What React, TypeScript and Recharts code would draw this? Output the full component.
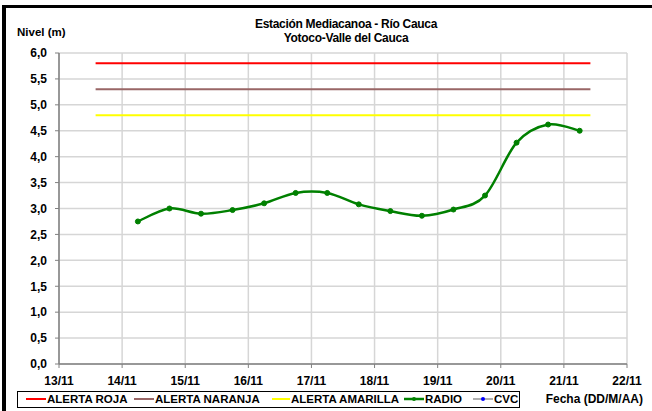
import { CartesianGrid, Line, LineChart, XAxis, YAxis } from "recharts";

const WIDTH = 652;
const HEIGHT = 411;
const FONT = '"Liberation Sans", Arial, sans-serif';

const dayTicks = [13, 14, 15, 16, 17, 18, 19, 20, 21, 22];
const levelTicks = [0, 0.5, 1, 1.5, 2, 2.5, 3, 3.5, 4, 4.5, 5, 5.5, 6];

const radioDays = [
  14.25, 14.75, 15.25, 15.75, 16.25, 16.75, 17.25, 17.75, 18.25, 18.75, 19.25,
  19.75, 20.25, 20.75, 21.25,
];
const radioLevels = [
  2.75, 3.0, 2.9, 2.97, 3.1, 3.3, 3.3, 3.08, 2.95, 2.86, 2.98, 3.25, 4.27, 4.62,
  4.5,
];

const alertDays = [13.58, 21.42];
const alertaRoja = 5.8;
const alertaNaranja = 5.3;
const alertaAmarilla = 4.8;

const radioData = radioDays.map((day, i) => ({ day, level: radioLevels[i] }));
const alertRow = (level: number) => alertDays.map((day) => ({ day, level }));

// excel-style smoothed line (cardinal spline through the points)
const excelSmooth = (context: any) => {
  let pts: number[][] = [];
  return {
    areaStart() {},
    areaEnd() {},
    lineStart() {
      pts = [];
    },
    point(x: number, y: number) {
      pts.push([+x, +y]);
    },
    lineEnd() {
      if (!pts.length) return;
      context.moveTo(pts[0][0], pts[0][1]);
      for (let i = 0; i < pts.length - 1; i++) {
        const p0 = pts[Math.max(i - 1, 0)];
        const p1 = pts[i];
        const p2 = pts[i + 1];
        const p3 = pts[Math.min(i + 2, pts.length - 1)];
        context.bezierCurveTo(
          p1[0] + (p2[0] - p0[0]) / 6,
          p1[1] + (p2[1] - p0[1]) / 6,
          p2[0] - (p3[0] - p1[0]) / 6,
          p2[1] - (p3[1] - p1[1]) / 6,
          p2[0],
          p2[1],
        );
      }
    },
  };
};

const legendItems = [
  { label: "ALERTA ROJA", color: "#ff0000", x: 26, w: 20 },
  { label: "ALERTA NARANJA", color: "#996666", x: 134, w: 20 },
  { label: "ALERTA AMARILLA", color: "#ffff00", x: 272, w: 18 },
  { label: "RADIO", color: "#008000", x: 404, w: 20, dot: "#008000", thick: true },
  { label: "CVC", color: "#b0b0b0", x: 473, w: 20, dot: "#0000ff" },
];

const bold = { fontFamily: FONT, fontWeight: 700, color: "#000" } as const;

export default function App() {
  return (
    <div
      style={{
        position: "absolute",
        left: 0,
        top: 0,
        width: WIDTH,
        height: HEIGHT,
        background: "#fff",
        overflow: "hidden",
      }}
    >
      <div
        style={{
          position: "absolute",
          left: 2,
          top: 5,
          right: 0,
          bottom: 0,
          borderLeft: "4px solid #000",
          borderTop: "3px solid #000",
        }}
      />
      <div
        style={{
          ...bold,
          position: "absolute",
          left: 0,
          width: 692,
          top: 17,
          textAlign: "center",
          fontSize: 12,
          lineHeight: "14px",
          letterSpacing: -0.3,
        }}
      >
        Estación Mediacanoa - Río Cauca
        <br />
        Yotoco-Valle del Cauca
      </div>
      <div style={{ ...bold, position: "absolute", left: 17, top: 26, fontSize: 11.5 }}>
        Nivel (m)
      </div>

      <div style={{ position: "absolute", left: 0, top: 0 }}>
        <LineChart
          width={WIDTH}
          height={HEIGHT}
          margin={{ top: 53, right: 25, bottom: 0, left: 0 }}
        >
          <CartesianGrid stroke="#d6d6d6" strokeWidth={1.5} />
          <XAxis
            type="number"
            dataKey="day"
            domain={[13, 22]}
            ticks={dayTicks}
            allowDataOverflow
            height={47}
            tickSize={4}
            tickMargin={8}
            tickFormatter={(d) => `${d}/11`}
            axisLine={{ stroke: "#808080", strokeWidth: 1.5 }}
            tickLine={{ stroke: "#808080" }}
            tick={{ fill: "#000", fontSize: 12, fontWeight: 700, fontFamily: FONT }}
          />
          <YAxis
            type="number"
            domain={[0, 6]}
            ticks={levelTicks}
            width={59}
            tickSize={4}
            tickMargin={8}
            tickFormatter={(v) => Number(v).toFixed(1).replace(".", ",")}
            axisLine={{ stroke: "#808080", strokeWidth: 1.5 }}
            tickLine={{ stroke: "#808080" }}
            tick={{ fill: "#000", fontSize: 12, fontWeight: 700, fontFamily: FONT }}
          />
          <Line
            data={alertRow(alertaRoja)}
            dataKey="level"
            stroke="#ff0000"
            strokeWidth={2}
            dot={false}
            isAnimationActive={false}
          />
          <Line
            data={alertRow(alertaNaranja)}
            dataKey="level"
            stroke="#996666"
            strokeWidth={2}
            dot={false}
            isAnimationActive={false}
          />
          <Line
            data={alertRow(alertaAmarilla)}
            dataKey="level"
            stroke="#ffff00"
            strokeWidth={2}
            dot={false}
            isAnimationActive={false}
          />
          <Line
            data={radioData}
            dataKey="level"
            type={excelSmooth as any}
            stroke="#008000"
            strokeWidth={2.5}
            dot={{ r: 2.5, fill: "#008000", stroke: "#008000", strokeWidth: 1 }}
            isAnimationActive={false}
          />
        </LineChart>
      </div>

      <div
        style={{
          position: "absolute",
          left: 17,
          top: 391,
          width: 501,
          height: 15,
          border: "1px solid #000",
          background: "#fff",
        }}
      />
      {legendItems.map((it) => (
        <div key={it.label}>
          <svg
            width={it.w}
            height={8}
            style={{ position: "absolute", left: it.x, top: 395 }}
          >
            <line
              x1={0}
              x2={it.w}
              y1={4}
              y2={4}
              stroke={it.color}
              strokeWidth={it.thick ? 2.5 : 2}
            />
            {it.dot && <circle cx={it.w / 2} cy={4} r={2} fill={it.dot} />}
          </svg>
          <span
            style={{
              ...bold,
              position: "absolute",
              left: it.x + it.w + 1,
              top: 392,
              fontSize: 11.5,
              lineHeight: "14px",
              whiteSpace: "nowrap",
            }}
          >
            {it.label}
          </span>
        </div>
      ))}
      <div
        style={{
          ...bold,
          position: "absolute",
          right: 9,
          top: 392,
          fontSize: 12,
          lineHeight: "14px",
        }}
      >
        Fecha (DD/M/AA)
      </div>
    </div>
  );
}
